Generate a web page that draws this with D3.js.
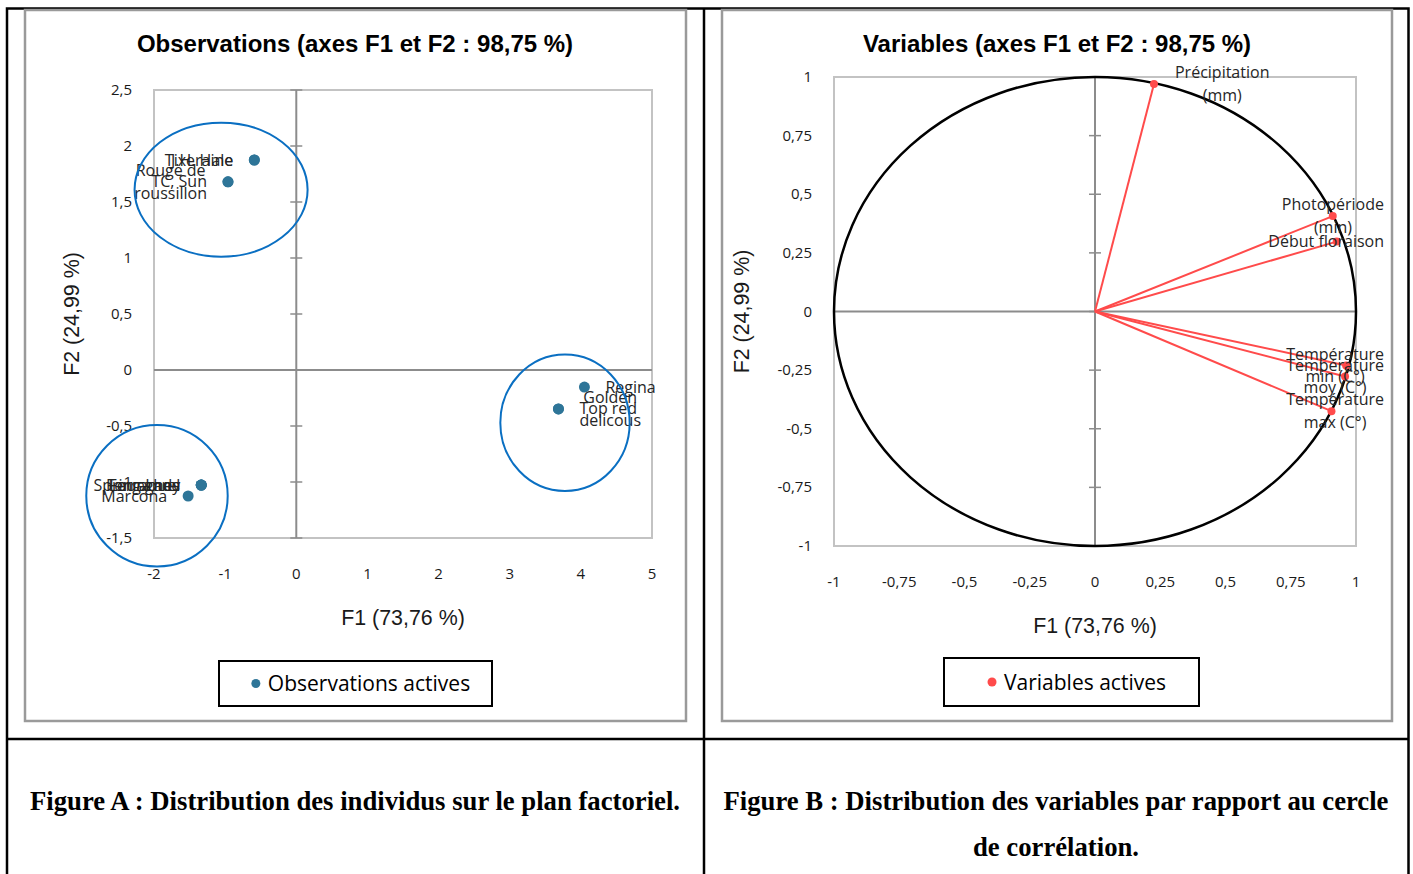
<!DOCTYPE html>
<html>
<head>
<meta charset="utf-8">
<script src="https://cdn.jsdelivr.net/npm/d3@7"></script>
<style>
  body { margin: 0; background: #fff; }
  svg text { font-family: "Open Sans", sans-serif; fill: #1a1a1a; }
</style>
</head>
<body>
<div id="svg-container"></div>
<script>
// Observations on the factorial plane (F1, F2)
const obsNames = ["Tixeraine", "J.H. Hale", "Rouge de\nroussillon", "TC, Sun", "Regina", "Golden\ndelicous", "Top red",
    "Spring Lady", "Ferragnes", "Ferraduel", "Lauranne", "Marcona"];
const obsF1 = [-0.59, -0.59, -0.96, -0.96, 4.05, 3.685, 3.685, -1.336, -1.336, -1.336, -1.336, -1.52];
const obsF2 = [1.875, 1.875, 1.68, 1.68, -0.152, -0.348, -0.348, -1.027, -1.027, -1.027, -1.027, -1.125];

// the three groups circled by hand, in axis units
const groupF1 = [-1.057, -1.958, 3.777];
const groupF2 = [1.61, -1.123, -0.471];
const groupSpanF1 = [1.216, 0.994, 0.909];
const groupSpanF2 = [0.598, 0.632, 0.609];

const obsTicksX = [-2, -1, 0, 1, 2, 3, 4, 5];
const obsTicksY = [-1.5, -1, -0.5, 0, 0.5, 1, 1.5, 2, 2.5];

// Variables on the correlation circle
const varNames = ["Précipitation\n(mm)", "Photopériode\n(min)", "Début floraison", "Température\nmin (C°)",
    "Température\nmoy (C°)", "Température\nmax (C°)"];
const varF1 = [0.226, 0.911, 0.926, 0.962, 0.958, 0.906];
const varF2 = [0.970, 0.407, 0.298, -0.230, -0.277, -0.425];

const varTicks = [-1, -0.75, -0.5, -0.25, 0, 0.25, 0.5, 0.75, 1];

const chartTitles = ["Observations (axes F1 et F2 : 98,75 %)", "Variables (axes F1 et F2 : 98,75 %)"];
const axisTitles = ["F1 (73,76 %)", "F2 (24,99 %)"];
const legendNames = ["Observations actives", "Variables actives"];
const captions = [
    ["Figure A : Distribution des individus sur le plan factoriel."],
    ["Figure B : Distribution des variables par rapport au cercle", "de corrélation."]
];

const frLocale = d3.formatLocale({ decimal: ",", thousands: " ", grouping: [3], currency: ["", "€"], minus: "-" });
const fmt = frLocale.format("~g");

const svg = d3.select("#svg-container")
    .append("svg")
    .attr("width", 1413)
    .attr("height", 874);

// table grid around the two figures
function drawTable() {
    const g = svg.append("g").attr("stroke", "#000").attr("stroke-width", 2.5).attr("fill", "none");
    g.append("path").attr("d", "M7,874 V8.5 H1408.5 V874");
    g.append("line").attr("x1", 704).attr("x2", 704).attr("y1", 8.5).attr("y2", 874);
    g.append("line").attr("x1", 7).attr("x2", 1408.5).attr("y1", 739).attr("y2", 739);

    const cx = [355, 1056];
    captions.forEach((lines, i) => {
        svg.selectAll(null)
            .data(lines)
            .enter()
            .append("text")
            .attr("x", cx[i])
            .attr("y", (d, j) => 810 + j * 46)
            .attr("text-anchor", "middle")
            .style("font-family", "'Liberation Serif', 'Times New Roman', serif")
            .style("font-weight", "bold")
            .style("font-size", "26.7px")
            .style("fill", "#000")
            .text(d => d);
    });
}

function drawFrame(x0, x1, title, titleX) {
    svg.append("rect")
        .attr("x", x0).attr("y", 10)
        .attr("width", x1 - x0).attr("height", 711)
        .attr("fill", "#fff")
        .attr("stroke", "#9a9a9a")
        .attr("stroke-width", 2.5);
    svg.append("text")
        .attr("x", titleX).attr("y", 52)
        .attr("text-anchor", "middle")
        .style("font-family", "'Liberation Sans', Arial, sans-serif")
        .style("font-weight", "bold")
        .style("font-size", "24px")
        .style("fill", "#000")
        .text(title);
}

// plot box, zero axes, tick labels and axis titles
function drawAxes(x, y, ticksX, ticksY, tickLabelY, yTitleX) {
    const [xl, xr] = x.range();
    const [yb, yt] = y.range();
    const g = svg.append("g");

    g.append("rect")
        .attr("x", xl).attr("y", yt)
        .attr("width", xr - xl).attr("height", yb - yt)
        .attr("fill", "none")
        .attr("stroke", "#c3c3c3")
        .attr("stroke-width", 2);

    g.append("line")
        .attr("x1", xl).attr("x2", xr)
        .attr("y1", y(0)).attr("y2", y(0))
        .attr("stroke", "#8c8c8c").attr("stroke-width", 2);
    g.append("line")
        .attr("x1", x(0)).attr("x2", x(0))
        .attr("y1", yt).attr("y2", yb)
        .attr("stroke", "#8c8c8c").attr("stroke-width", 2);

    // cross ticks on the vertical zero axis
    g.selectAll(".ytick")
        .data(ticksY)
        .enter()
        .append("line")
        .attr("class", "ytick")
        .attr("x1", x(0) - 6).attr("x2", x(0) + 6)
        .attr("y1", d => y(d)).attr("y2", d => y(d))
        .attr("stroke", "#8c8c8c").attr("stroke-width", 1.5);

    g.selectAll(".ylab")
        .data(ticksY)
        .enter()
        .append("text")
        .attr("class", "ylab")
        .attr("x", xl - 22)
        .attr("y", d => y(d) + 5)
        .attr("text-anchor", "end")
        .style("font-size", "15px")
        .text(d => fmt(d));

    g.selectAll(".xlab")
        .data(ticksX)
        .enter()
        .append("text")
        .attr("class", "xlab")
        .attr("x", d => x(d))
        .attr("y", tickLabelY)
        .attr("text-anchor", "middle")
        .style("font-size", "15px")
        .text(d => fmt(d));

    g.append("text")
        .attr("x", (xl + xr) / 2)
        .attr("y", tickLabelY + 45.5)
        .attr("text-anchor", "middle")
        .style("font-family", "'Liberation Sans', Arial, sans-serif")
        .style("font-size", "21.4px")
        .text(axisTitles[0]);

    g.append("text")
        .attr("transform", `translate(${yTitleX},${(yt + yb) / 2}) rotate(-90)`)
        .attr("text-anchor", "middle")
        .style("font-family", "'Liberation Sans', Arial, sans-serif")
        .style("font-size", "21.4px")
        .text(axisTitles[1]);
}

// data labels: right of the point for F1 >= 0, left otherwise, kept inside the frame
function drawLabels(names, f1, f2, x, y, clampLeft, clampRight) {
    const g = svg.append("g");
    names.forEach((name, i) => {
        const lines = name.split("\n");
        const texts = g.selectAll(null)
            .data(lines)
            .enter()
            .append("text")
            .attr("text-anchor", "middle")
            .style("font-size", "16px")
            .style("fill", "#262626")
            .text(d => d);
        const w = d3.max(texts.nodes(), n => n.getComputedTextLength());
        const px = x(f1[i]), py = y(f2[i]);
        let left = f1[i] >= 0 ? px + 21 : px - 21 - w;
        left = Math.max(clampLeft, Math.min(clampRight - w, left));
        texts.attr("x", left + w / 2)
            .attr("y", (d, j) => py + (j - (lines.length - 1) / 2) * 22.5 + 5.5);
    });
}

function drawLegend(x0, x1, y0, y1, color, name) {
    svg.append("rect")
        .attr("x", x0).attr("y", y0)
        .attr("width", x1 - x0).attr("height", y1 - y0)
        .attr("fill", "#fff")
        .attr("stroke", "#000")
        .attr("stroke-width", 2);
    const cy = (y0 + y1) / 2;
    const t = svg.append("text")
        .attr("y", cy + 7.5)
        .style("font-size", "21px")
        .style("fill", "#000")
        .text(name);
    // the entry sits a little right of centre, like Excel draws it
    const w = t.node().getComputedTextLength() + 13;
    const start = (x0 + x1) / 2 - w / 2 + 7;
    svg.append("circle")
        .attr("cx", start + 1).attr("cy", cy)
        .attr("r", 4.5)
        .attr("fill", color);
    t.attr("x", start + 13);
}

function drawObservations() {
    drawFrame(25, 686, chartTitles[0], 355);

    const x = d3.scaleLinear().domain([-2, 5]).range([154, 652]);
    const y = d3.scaleLinear().domain([-1.5, 2.5]).range([538, 90]);

    drawAxes(x, y, obsTicksX, obsTicksY, 579, 79);

    drawLabels(obsNames, obsF1, obsF2, x, y, 30, 680);

    svg.append("g")
        .selectAll("circle")
        .data(obsF1)
        .enter()
        .append("circle")
        .attr("cx", d => x(d))
        .attr("cy", (d, i) => y(obsF2[i]))
        .attr("r", 5.5)
        .attr("fill", "#2e7598");

    svg.append("g")
        .selectAll("ellipse")
        .data(groupF1)
        .enter()
        .append("ellipse")
        .attr("cx", d => x(d))
        .attr("cy", (d, i) => y(groupF2[i]))
        .attr("rx", (d, i) => x(groupSpanF1[i]) - x(0))
        .attr("ry", (d, i) => y(0) - y(groupSpanF2[i]))
        .attr("fill", "none")
        .attr("stroke", "#0a6fc2")
        .attr("stroke-width", 2);

    drawLegend(219, 492, 661, 706, "#2e7598", legendNames[0]);
}

function drawVariables() {
    drawFrame(722, 1392, chartTitles[1], 1057);

    const x = d3.scaleLinear().domain([-1, 1]).range([834, 1356]);
    const y = d3.scaleLinear().domain([-1, 1]).range([546, 77]);

    drawAxes(x, y, varTicks, varTicks, 587, 749);

    // correlation circle
    svg.append("ellipse")
        .attr("cx", x(0)).attr("cy", y(0))
        .attr("rx", x(1) - x(0)).attr("ry", y(0) - y(1))
        .attr("fill", "none")
        .attr("stroke", "#000")
        .attr("stroke-width", 2.5);

    const g = svg.append("g");
    g.selectAll("line")
        .data(varF1)
        .enter()
        .append("line")
        .attr("x1", x(0)).attr("y1", y(0))
        .attr("x2", d => x(d))
        .attr("y2", (d, i) => y(varF2[i]))
        .attr("stroke", "#ff4b4b")
        .attr("stroke-width", 2);
    g.selectAll("circle")
        .data(varF1)
        .enter()
        .append("circle")
        .attr("cx", d => x(d))
        .attr("cy", (d, i) => y(varF2[i]))
        .attr("r", 4)
        .attr("fill", "#ff4b4b");

    drawLabels(varNames, varF1, varF2, x, y, 727, 1384);

    drawLegend(944, 1199, 658, 706, "#ff4b4b", legendNames[1]);
}

drawTable();
drawObservations();
drawVariables();
</script>
</body>
</html>
